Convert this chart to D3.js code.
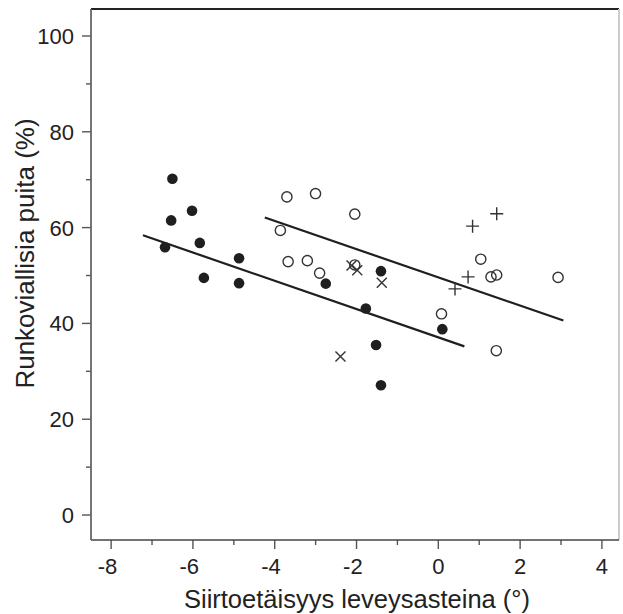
<!DOCTYPE html>
<html>
<head>
<meta charset="utf-8">
<script src="https://cdn.jsdelivr.net/npm/d3@7"></script>
<style>
  body { margin: 0; background: #fff; }
  svg { display: block; font-family: "Liberation Sans", Arial, sans-serif; }
</style>
</head>
<body>
<svg id="chart" width="623" height="614"></svg>
<script>
// values
const filledX = [-6.49, -6.52, -6.01, -6.67, -5.82, -4.86, -5.72, -4.86, -2.74, -1.39, -1.76, 0.11, -1.51, -1.39];
const filledY = [70.1, 61.4, 63.4, 55.8, 56.7, 53.5, 49.4, 48.3, 48.2, 50.8, 43.0, 38.7, 35.4, 27.0];

const openX = [-3.69, -2.99, -2.03, -3.85, -3.66, -3.19, -2.89, -2.03, 1.05, 1.30, 1.44, 2.94, 0.09, 1.43];
const openY = [66.3, 67.0, 62.7, 59.3, 52.8, 53.0, 50.4, 52.1, 53.3, 49.6, 50.0, 49.5, 41.9, 34.2];

const crossX = [-2.38, -2.11, -1.97, -1.37];
const crossY = [33.0, 52.0, 51.0, 48.4];

const plusX = [1.44, 0.85, 0.74, 0.42];
const plusY = [62.8, 60.2, 49.6, 47.1];

// fitted lines (end points)
const lowerLineX = [-7.21, 0.65];
const lowerLineY = [58.3, 35.1];
const upperLineX = [-4.23, 3.07];
const upperLineY = [62.0, 40.5];

const xTicks = [-8, -6, -4, -2, 0, 2, 4];
const xMinor = [-7, -5, -3, -1, 1, 3];
const yTicks = [0, 20, 40, 60, 80, 100];
const yMinor = [10, 30, 50, 70, 90];

const xTitle = "Siirtoetäisyys leveysasteina (°)";
const yTitle = "Runkoviallisia puita (%)";

const plotL = 91, plotR = 619, plotT = 9, plotB = 540;
const x = d3.scaleLinear().domain([-8.48, 4.43]).range([plotL, plotR]);
const y = d3.scaleLinear().domain([-5.32, 105.53]).range([plotB, plotT]);

const svg = d3.select("#chart");
const ink = "#1f1f1f";

// frame
svg.append("line").attr("x1", plotL).attr("x2", plotR).attr("y1", plotT).attr("y2", plotT)
  .attr("stroke", "#222").attr("stroke-width", 2);
svg.append("line").attr("x1", plotR).attr("x2", plotR).attr("y1", plotT).attr("y2", plotB)
  .attr("stroke", "#ccc").attr("stroke-width", 2);

// axes
const xAxis = svg.append("g").attr("transform", `translate(0,${plotB})`)
  .call(d3.axisBottom(x).tickValues(xTicks).tickSize(9).tickPadding(9)
    .tickFormat(d => d < 0 ? "-" + Math.abs(d) : String(d)));
svg.append("g").attr("transform", `translate(0,${plotB})`)
  .call(d3.axisBottom(x).tickValues(xMinor).tickSize(5).tickFormat(""));

const yAxis = svg.append("g").attr("transform", `translate(${plotL},0)`)
  .call(d3.axisLeft(y).tickValues(yTicks).tickSize(9).tickPadding(8));
svg.append("g").attr("transform", `translate(${plotL},0)`)
  .call(d3.axisLeft(y).tickValues(yMinor).tickSize(5).tickFormat(""));

// plain lines for the axes, reaching the frame corners
svg.selectAll(".domain").remove();
svg.append("line").attr("x1", plotL).attr("x2", plotR).attr("y1", plotB).attr("y2", plotB)
  .attr("stroke", "#444").attr("stroke-width", 1.6);
svg.append("line").attr("x1", plotL).attr("x2", plotL).attr("y1", plotT).attr("y2", plotB)
  .attr("stroke", "#666").attr("stroke-width", 1.8);

svg.selectAll(".tick line").attr("stroke", "#555").attr("stroke-width", 1.4);
svg.selectAll(".tick text").attr("fill", "#222").style("font-size", "22px")
  .style("font-family", '"Liberation Sans", Arial, sans-serif');
xAxis.selectAll(".tick text").attr("dx", d => d < 0 ? -3.7 : 0);
yAxis.selectAll(".tick text").attr("dy", "0.36em");

// titles
svg.append("text").attr("x", (plotL + plotR) / 2 + 2).attr("y", 608)
  .attr("text-anchor", "middle").attr("fill", "#222").style("font-size", "25.5px").text(xTitle);
svg.append("text").attr("transform", `translate(34,${(plotT + plotB) / 2 - 21}) rotate(-90)`)
  .attr("text-anchor", "middle").attr("fill", "#222").style("font-size", "26px").text(yTitle);

// fitted lines
const line = d3.line().x(d => x(d[0])).y(d => y(d[1]));
[[lowerLineX, lowerLineY], [upperLineX, upperLineY]].forEach(([lx, ly]) => {
  svg.append("path").datum(d3.zip(lx, ly)).attr("d", line)
    .attr("fill", "none").attr("stroke", ink).attr("stroke-width", 2.2);
});

// markers
svg.append("g").selectAll("circle").data(d3.zip(filledX, filledY)).join("circle")
  .attr("cx", d => x(d[0])).attr("cy", d => y(d[1])).attr("r", 5.3).attr("fill", ink);

svg.append("g").selectAll("circle").data(d3.zip(openX, openY)).join("circle")
  .attr("cx", d => x(d[0])).attr("cy", d => y(d[1])).attr("r", 5.1)
  .attr("fill", "none").attr("stroke", "#333").attr("stroke-width", 1.4);

const c = 5;
svg.append("g").selectAll("path").data(d3.zip(crossX, crossY)).join("path")
  .attr("d", d => `M${x(d[0]) - c},${y(d[1]) - c}L${x(d[0]) + c},${y(d[1]) + c}M${x(d[0]) - c},${y(d[1]) + c}L${x(d[0]) + c},${y(d[1]) - c}`)
  .attr("stroke", "#333").attr("stroke-width", 1.4);

const p = 6.5;
svg.append("g").selectAll("path").data(d3.zip(plusX, plusY)).join("path")
  .attr("d", d => `M${x(d[0]) - p},${y(d[1])}H${x(d[0]) + p}M${x(d[0])},${y(d[1]) - p}V${y(d[1]) + p}`)
  .attr("stroke", "#333").attr("stroke-width", 1.4);
</script>
</body>
</html>
